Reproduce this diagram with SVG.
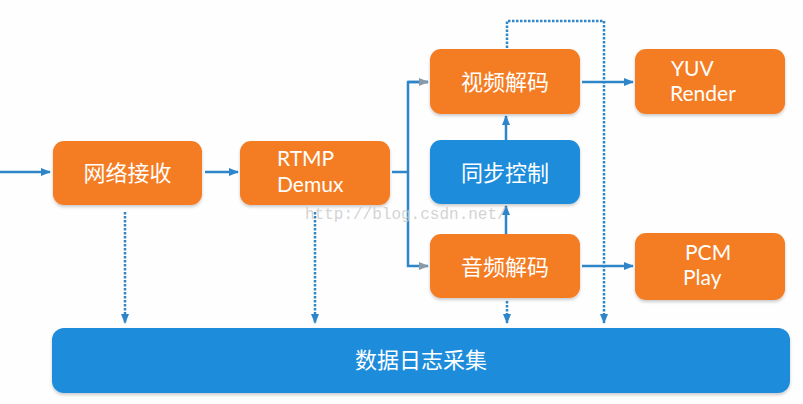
<svg xmlns="http://www.w3.org/2000/svg" width="803" height="404" viewBox="0 0 803 404">
<defs>
<style>
.o{fill:#F47C23}
.b{fill:#1E8CDB}
.t{fill:#fff;font-family:"Noto Sans CJK SC","Noto Sans",sans-serif;font-size:22px;text-anchor:middle}
.e{fill:#fff;font-family:"Lato","Noto Sans",sans-serif;font-size:21px}
.l{stroke:#2E86C9;stroke-width:2.5;fill:none}
.d{stroke:#2E86C9;stroke-width:2.5;fill:none;stroke-dasharray:2.5 1.5}
</style>
<marker id="a" viewBox="0 0 10 10" refX="9" refY="5" markerWidth="4" markerHeight="4" orient="auto"><path d="M0,1 L10,5 L0,9 z" fill="#2E86C9"/></marker>
<marker id="ag" viewBox="0 0 10 10" refX="9" refY="5" markerWidth="4" markerHeight="4" orient="auto"><path d="M0,1 L10,5 L0,9 z" fill="#8A9AA8"/></marker>
<filter id="s" x="-10%" y="-10%" width="120%" height="130%"><feDropShadow dx="0" dy="2" stdDeviation="1.5" flood-color="#000" flood-opacity="0.2"/></filter>
</defs>
<rect width="803" height="404" fill="#FEFEFE"/>
<g id="connectors">
<line class="l" x1="0" y1="172" x2="50" y2="172" marker-end="url(#a)"/>
<line class="l" x1="205" y1="172" x2="238" y2="172" marker-end="url(#a)"/>
<polyline class="l" points="392,172 408,172"/>
<polyline class="l" points="428,82 408,82 408,266 428,266" marker-end="url(#ag)"/>
<line class="l" x1="408" y1="82" x2="428" y2="82" marker-end="url(#ag)"/>
<line class="l" x1="506" y1="140" x2="506" y2="116" marker-end="url(#a)"/>
<line class="l" x1="506" y1="234" x2="506" y2="206" marker-end="url(#a)"/>
<line class="l" x1="582" y1="82" x2="633" y2="82" marker-end="url(#a)"/>
<line class="l" x1="582" y1="266" x2="633" y2="266" marker-end="url(#a)"/>
<polyline class="d" points="507,48 507,21 604,21 604,323" marker-end="url(#a)"/>
<line class="d" x1="125" y1="212" x2="125" y2="323" marker-end="url(#a)"/>
<line class="d" x1="315" y1="212" x2="315" y2="323" marker-end="url(#a)"/>
<line class="d" x1="507" y1="301" x2="507" y2="323" marker-end="url(#a)"/>
</g>
<g id="n1"><rect class="o" x="53" y="141" width="149" height="64" rx="11" filter="url(#s)"/><text class="t" x="127.5" y="181">网络接收</text></g>
<g id="n2"><rect class="o" x="240" y="141" width="150" height="64" rx="11" filter="url(#s)"/><text class="e" x="277" y="166">RTMP</text><text class="e" x="277" y="192">Demux</text></g>
<g id="n3"><rect class="o" x="430" y="49" width="150" height="65" rx="11" filter="url(#s)"/><text class="t" x="505" y="90">视频解码</text></g>
<g id="n4"><rect class="b" x="430" y="140" width="150" height="64" rx="11" filter="url(#s)"/><text class="t" x="505" y="181">同步控制</text></g>
<g id="n5"><rect class="o" x="430" y="234" width="150" height="64" rx="11" filter="url(#s)"/><text class="t" x="505" y="275">音频解码</text></g>
<g id="n6"><rect class="o" x="635" y="49" width="150" height="65" rx="11" filter="url(#s)"/><text class="e" x="671" y="76">YUV</text><text class="e" x="670" y="101">Render</text></g>
<g id="n7"><rect class="o" x="635" y="233" width="150" height="67" rx="11" filter="url(#s)"/><text class="e" x="685" y="260">PCM</text><text class="e" x="683" y="285">Play</text></g>
<g id="n8"><rect class="b" x="52" y="328" width="738" height="65" rx="12" filter="url(#s)"/><text class="t" x="421" y="368">数据日志采集</text></g>
<text x="305" y="219" font-family="Liberation Mono,monospace" font-size="16" fill="#C8C8C8" fill-opacity="0.8">http://blog.csdn.net/</text>
</svg>
